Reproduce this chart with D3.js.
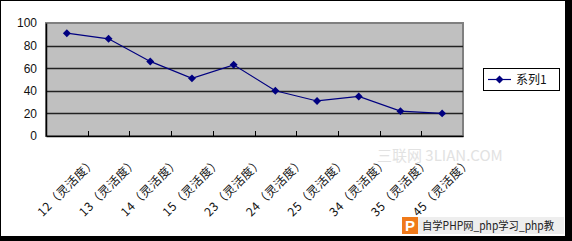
<!DOCTYPE html>
<html>
<head>
<meta charset="utf-8">
<script src="https://cdn.jsdelivr.net/npm/d3@7"></script>
<style>
  html, body { margin: 0; padding: 0; background: #000; }
  svg { display: block; }
</style>
</head>
<body>
<svg id="chart"></svg>
<script>
const categories = ['12（灵活度）', '13（灵活度）', '14（灵活度）', '15（灵活度）', '23（灵活度）',
  '24（灵活度）', '25（灵活度）', '34（灵活度）', '35（灵活度）', '45（灵活度）'];
const series1 = [91, 86, 66, 51, 63, 40, 31, 35, 22, 20];
const seriesName = '系列1';
const yTicks = [0, 20, 40, 60, 80, 100];

const config = {
  width: 572,
  height: 241,
  plot: { left: 46, top: 23, right: 463, bottom: 136 },
  color: '#000080'
};

drawChart('chart', config);

function drawChart(id, config) {
  const svg = d3.select(`#${id}`)
    .attr('width', config.width)
    .attr('height', config.height);

  // black frame round a white card
  svg.append('rect')
    .attr('x', 0).attr('y', 0)
    .attr('width', config.width).attr('height', config.height)
    .attr('fill', '#000');
  svg.append('rect')
    .attr('x', 1).attr('y', 1)
    .attr('width', 564).attr('height', 235)
    .attr('fill', '#fff');

  const x = d3.scaleBand()
    .domain(categories)
    .range([config.plot.left, config.plot.right]);
  const y = d3.scaleLinear()
    .domain([0, 100])
    .range([config.plot.bottom, config.plot.top]);

  // plot area
  svg.append('rect')
    .attr('x', config.plot.left)
    .attr('y', config.plot.top)
    .attr('width', config.plot.right - config.plot.left)
    .attr('height', config.plot.bottom - config.plot.top)
    .attr('fill', '#c0c0c0')
    .attr('stroke', '#808080')
    .attr('stroke-width', 2);

  // gridlines
  svg.append('g')
    .selectAll('line')
    .data(yTicks.filter(t => t > 0 && t < 100))
    .enter()
    .append('line')
    .attr('x1', config.plot.left)
    .attr('x2', config.plot.right)
    .attr('y1', t => Math.round(y(t)) + 0.5)
    .attr('y2', t => Math.round(y(t)) + 0.5)
    .attr('stroke', '#222')
    .attr('stroke-width', 1.5);

  // y axis
  const yAxis = svg.append('g')
    .attr('transform', `translate(${config.plot.left},0)`)
    .call(d3.axisLeft(y).tickValues(yTicks).tickSize(0).tickPadding(9));
  yAxis.select('.domain').attr('stroke', '#000').attr('stroke-width', 1.5);
  yAxis.selectAll('text')
    .attr('font-family', '"Liberation Sans", Arial, sans-serif')
    .attr('font-size', 12)
    .attr('fill', '#111');

  // x axis with ticks pointing up into the plot
  const xAxis = svg.append('g')
    .attr('transform', `translate(0,${config.plot.bottom})`)
    .call(d3.axisBottom(x).tickSize(0).tickFormat(''));
  xAxis.select('.domain').attr('stroke', '#000').attr('stroke-width', 1.5);
  xAxis.selectAll('.tick').remove();
  xAxis.selectAll('.boundary')
    .data(categories.slice(1))
    .enter()
    .append('line')
    .attr('x1', d => Math.round(x(d)) + 0.5)
    .attr('x2', d => Math.round(x(d)) + 0.5)
    .attr('y1', 0)
    .attr('y2', -5)
    .attr('stroke', '#000');

  // rotated category labels, centred under each band
  svg.append('g')
    .selectAll('text')
    .data(categories)
    .enter()
    .append('text')
    .attr('transform', d => `translate(${x(d) + x.bandwidth() / 2},187) rotate(-45)`)
    .attr('text-anchor', 'middle')
    .attr('dy', '0.35em')
    .attr('font-family', '"Noto Sans CJK SC", sans-serif')
    .attr('font-size', 12)
    .attr('letter-spacing', 0.5)
    .attr('fill', '#111')
    .text(d => d);

  // line + markers
  const line = d3.line()
    .x((d, i) => x(categories[i]) + x.bandwidth() / 2)
    .y(d => y(d));
  svg.append('path')
    .datum(series1)
    .attr('d', line)
    .attr('fill', 'none')
    .attr('stroke', config.color)
    .attr('stroke-width', 1.2);

  const diamond = d3.symbol().type(d3.symbolDiamond2).size(40);
  svg.append('g')
    .selectAll('path')
    .data(series1)
    .enter()
    .append('path')
    .attr('d', diamond)
    .attr('transform', (d, i) => `translate(${x(categories[i]) + x.bandwidth() / 2},${y(d)})`)
    .attr('fill', config.color);

  // legend
  const legend = svg.append('g').attr('transform', 'translate(483,68)');
  legend.append('rect')
    .attr('x', 0.5).attr('y', 0.5)
    .attr('width', 76).attr('height', 22)
    .attr('fill', '#fff')
    .attr('stroke', '#000');
  legend.append('line')
    .attr('x1', 5).attr('x2', 28)
    .attr('y1', 11.5).attr('y2', 11.5)
    .attr('stroke', config.color)
    .attr('stroke-width', 1.2);
  legend.append('path')
    .attr('d', diamond)
    .attr('transform', 'translate(16.5,11.5)')
    .attr('fill', config.color);
  legend.append('text')
    .attr('x', 33).attr('y', 12)
    .attr('dy', '0.35em')
    .attr('font-family', '"Noto Sans CJK SC", sans-serif')
    .attr('font-size', 12)
    .attr('fill', '#111')
    .text(seriesName);

  // watermarks
  svg.append('text')
    .attr('x', 377).attr('y', 161)
    .attr('font-family', '"Noto Sans CJK SC", sans-serif')
    .attr('font-size', 15)
    .attr('fill', '#e2e2e2')
    .text('三联网 3LIAN.COM');

  const badge = svg.append('g').attr('transform', 'translate(402,217)');
  badge.append('rect')
    .attr('width', 162).attr('height', 17)
    .attr('fill', '#eeeeee');
  badge.append('rect')
    .attr('width', 16).attr('height', 17)
    .attr('fill', '#f07a1a');
  badge.append('text')
    .attr('x', 8).attr('y', 14)
    .attr('text-anchor', 'middle')
    .attr('font-family', '"Liberation Sans", Arial, sans-serif')
    .attr('font-weight', 'bold')
    .attr('font-size', 15)
    .attr('fill', '#fff')
    .text('P');
  badge.append('text')
    .attr('x', 20).attr('y', 13)
    .attr('font-family', '"Noto Sans CJK SC", sans-serif')
    .attr('font-size', 11.5)
    .attr('textLength', 132)
    .attr('lengthAdjust', 'spacingAndGlyphs')
    .attr('fill', '#222')
    .text('自学PHP网_php学习_php教');
}
</script>
</body>
</html>
